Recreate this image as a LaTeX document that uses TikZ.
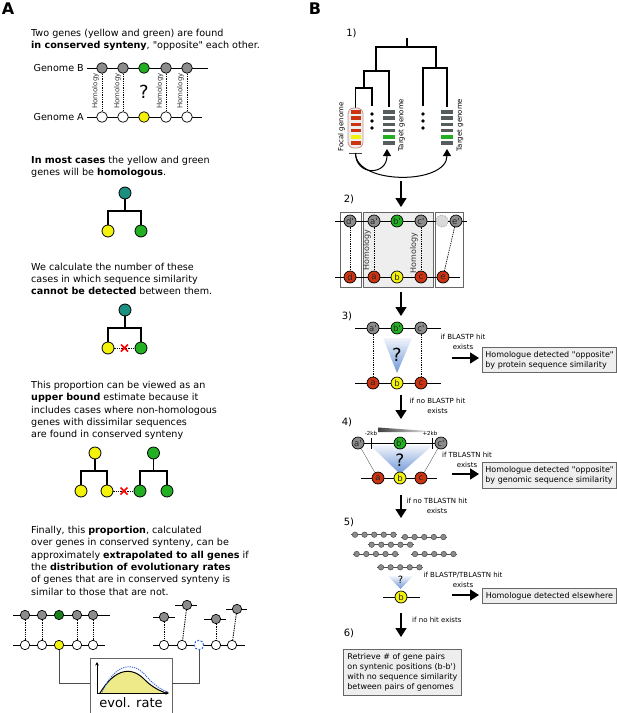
\documentclass[tikz,border=0pt]{standalone}
\usepackage{fontspec}
\setmainfont{DejaVu Sans}[Ligatures=TeXOff]
\usetikzlibrary{arrows.meta,shapes.geometric}
\definecolor{ggrey}{HTML}{8C8C8C}
\definecolor{ggreen}{HTML}{22B022}
\definecolor{dgreen}{HTML}{1A801A}
\definecolor{gyellow}{HTML}{F2F20A}
\definecolor{gteal}{HTML}{1B8F80}
\definecolor{gred}{HTML}{CC3311}
\definecolor{boxfill}{HTML}{EEEEEE}
\definecolor{boxline}{HTML}{666666}
\definecolor{bargrey}{HTML}{555D5D}
\definecolor{capline}{HTML}{C09090}
\definecolor{blueq}{HTML}{6E97D6}
\definecolor{paleblue}{HTML}{F2F5FB}
\definecolor{paleyel}{HTML}{EEEA8A}
\definecolor{dashblue}{HTML}{3366DD}
\newcommand{\fs}[2]{\fontsize{#1}{#2}\selectfont}
\begin{document}
\begin{tikzpicture}[x=1pt,y=-1pt,
 cA/.style={circle,draw=black,line width=0.7pt,inner sep=0pt,minimum size=10.6pt},
 cS/.style={circle,draw=black,line width=0.7pt,inner sep=0pt,minimum size=9.4pt},
 cT/.style={circle,draw=black,line width=0.8pt,inner sep=0pt,minimum size=12pt},
 cB/.style={circle,draw=black,line width=0.7pt,inner sep=0pt,minimum size=12pt,font=\fs{8.5}{8.5},text=black!85},
 bead/.style={circle,draw=black!70,fill=ggrey,line width=0.5pt,inner sep=0pt,minimum size=5.5pt},
 dots/.style={line width=0.9pt,dash pattern=on 1.3pt off 1pt},
 gline/.style={line width=1pt},
 tline/.style={line width=1.3pt},
 flow/.style={line width=1.6pt,-{Triangle[width=11pt,length=9pt]}},
 rbox/.style={draw=boxline,fill=boxfill,line width=0.8pt,inner sep=3pt,align=left,font=\fs{8}{10},anchor=north west},
 lab/.style={font=\fs{7}{9.5},align=center,inner sep=0pt},
 txt/.style={anchor=north west,inner sep=0pt,align=left,font=\fs{9.6}{12.4}},
 hom/.style={rotate=90,font=\fs{7}{7},text=black!80,inner sep=0pt},
 homB/.style={rotate=90,font=\fs{8}{8},text=black!80,inner sep=0pt},
 stepl/.style={font=\fs{10}{10},inner sep=0pt},
 qm/.style={font=\fs{18}{18},inner sep=0pt},
 conn/.style={line width=0.8pt,draw=black!70}
]
\useasboundingbox (0,0) rectangle (617,713);
% ================= Panel A =================
\node[font=\bfseries\fs{16}{16},inner sep=0pt] (LA) at (8,9) {A};
\node[txt] (tA1) at (31,28.7) {Two genes (yellow and green) are found\\\textbf{in conserved synteny}, "opposite" each other.};
% genome pair
\draw[gline] (87,68) -- (208,68);
\draw[gline] (87,117) -- (202,117);
\node[anchor=east,font=\fs{9.6}{12},inner sep=0pt] (gBl) at (84,68) {Genome B};
\node[anchor=east,font=\fs{9.6}{12},inner sep=0pt] (gAl) at (84,117) {Genome A};
\node[cA,fill=ggrey] (b1) at (102,68) {};
\node[cA,fill=ggrey] (b2) at (123,68) {};
\node[cA,fill=ggreen] (b3) at (144,68) {};
\node[cA,fill=ggrey] (b4) at (166,68) {};
\node[cA,fill=ggrey] (b5) at (187,68) {};
\node[cA,fill=white] (a1) at (102,117) {};
\node[cA,fill=white] (a2) at (123,117) {};
\node[cA,fill=gyellow] (a3) at (144,117) {};
\node[cA,fill=white] (a4) at (166,117) {};
\node[cA,fill=white] (a5) at (187,117) {};
\draw[dots] (b1) -- (a1);
\draw[dots] (b2) -- (a2);
\draw[dots] (b4) -- (a4);
\draw[dots] (b5) -- (a5);
\node[hom] (hA1) at (95.5,91) {Homology};
\node[hom] (hA2) at (117.5,91) {Homology};
\node[hom] (hA3) at (160,91) {Homology};
\node[hom] (hA4) at (180.5,91) {Homology};
\node[qm] (qA) at (144,92) {?};
\node[txt] (tA2) at (31,155.7) {\textbf{In most cases} the yellow and green\\genes will be \textbf{homologous}.};
% tree 1
\node[cT,fill=gteal] (t1r) at (125,193) {};
\node[cT,fill=gyellow] (t1a) at (108,231) {};
\node[cT,fill=ggreen] (t1b) at (141,231) {};
\coordinate (t1j) at (125,211);
\draw[tline] (t1r) -- (t1j);
\draw[tline] (t1a) |- (t1j) -| (t1b);
\node[txt] (tA3) at (31,262.7) {We calculate the number of these\\cases in which sequence similarity\\\textbf{cannot be detected} between them.};
% tree 2
\node[cT,fill=gteal] (t2r) at (125,310) {};
\node[cT,fill=gyellow] (t2a) at (108,348) {};
\node[cT,fill=ggreen] (t2b) at (141,348) {};
\coordinate (t2j) at (125,328);
\draw[tline] (t2r) -- (t2j);
\draw[tline] (t2a) |- (t2j) -| (t2b);
\draw[dots,line width=0.7pt] (t2a) -- (t2b);
\draw[red,line width=1.6pt] (121,344.5) -- (128,351.5) (121,351.5) -- (128,344.5);
\node[txt] (tA4) at (31,380.7) {This proportion can be viewed as an\\\textbf{upper bound} estimate because it\\includes cases where non-homologous\\genes with dissimilar sequences\\are found in conserved synteny};
% tree 3
\node[cT,fill=gyellow] (t3r) at (95,453) {};
\node[cT,fill=gyellow] (t3a) at (81,491) {};
\node[cT,fill=gyellow] (t3b) at (107,491) {};
\coordinate (t3j) at (95,471);
\draw[tline] (t3r) -- (t3j);
\draw[tline] (t3a) |- (t3j) -| (t3b);
\node[cT,fill=ggreen] (t4r) at (153.5,453) {};
\node[cT,fill=ggreen] (t4a) at (140,491) {};
\node[cT,fill=ggreen] (t4b) at (167,491) {};
\coordinate (t4j) at (153.5,471);
\draw[tline] (t4r) -- (t4j);
\draw[tline] (t4a) |- (t4j) -| (t4b);
\draw[dots,line width=0.7pt] (t3b) -- (t4a);
\draw[red,line width=1.6pt] (120.5,487.5) -- (127.5,494.5) (120.5,494.5) -- (127.5,487.5);
\node[txt] (tA5) at (31,525.7) {Finally, this \textbf{proportion}, calculated\\over genes in conserved synteny, can be\\approximately \textbf{extrapolated to all genes} if\\the \textbf{distribution of evolutionary rates}\\of genes that are in conserved synteny is\\similar to those that are not.};
% bottom left synteny
\draw[gline] (13,615) -- (110,615);
\draw[gline] (13,645) -- (105,645);
\node[cS,fill=ggrey] (l1t) at (25,615) {};
\node[cS,fill=ggrey] (l2t) at (42,615) {};
\node[cS,fill=dgreen] (l3t) at (59,615) {};
\node[cS,fill=ggrey] (l4t) at (77,615) {};
\node[cS,fill=ggrey] (l5t) at (93,615) {};
\node[cS,fill=white] (l1b) at (25,645) {};
\node[cS,fill=white] (l2b) at (42,645) {};
\node[cS,fill=gyellow] (l3b) at (59,645) {};
\node[cS,fill=white] (l4b) at (77,645) {};
\node[cS,fill=white] (l5b) at (93,645) {};
\draw[dots] (l1t) -- (l1b);
\draw[dots] (l2t) -- (l2b);
\draw[dots] (l4t) -- (l4b);
\draw[dots] (l5t) -- (l5b);
% bottom right non-synteny
\draw[gline] (153,645) -- (245,645);
\draw[gline] (153,617) -- (175,617);
\draw[gline] (175,605) -- (197,605);
\draw[gline] (204,619) -- (226,619);
\draw[gline] (226,609) -- (247,609);
\node[cS,fill=ggrey] (r1t) at (164,617) {};
\node[cS,fill=ggrey] (r2t) at (187,605) {};
\node[cS,fill=ggrey] (r4t) at (216,619) {};
\node[cS,fill=ggrey] (r5t) at (237,609) {};
\node[cS,fill=white] (r1b) at (164,645) {};
\node[cS,fill=white] (r2b) at (182,645) {};
\node[cS,fill=white,draw=dashblue,line width=1pt,dash pattern=on 2pt off 1.5pt] (r3b) at (199,645) {};
\node[cS,fill=white] (r4b) at (216,645) {};
\node[cS,fill=white] (r5b) at (232,645) {};
\draw[dots] (r1t) -- (r1b);
\draw[dots] (r2t) -- (r2b);
\draw[dots] (r4t) -- (r4b);
\draw[dots] (r5t) -- (r5b);
% evol rate box
\node[draw=boxline,fill=white,line width=0.9pt,minimum width=82pt,minimum height=57pt,anchor=north west,inner sep=0pt] (evbox) at (90,658) {};
\coordinate (evL) at (90,683);
\coordinate (evR) at (172,683);
\draw[conn] (l3b) |- (evL);
\draw[conn] (r3b) |- (evR);
\fill[paleyel] (100,693) .. controls (115,668) and (132,666) .. (145,680) .. controls (152,687) and (160,691) .. (166,693) -- cycle;
\draw[line width=1pt] (100,693) .. controls (115,668) and (132,666) .. (145,680) .. controls (152,687) and (160,691) .. (166,693);
\draw[dashblue,line width=0.9pt,dash pattern=on 1.2pt off 1pt] (102,692) .. controls (116,662) and (134,661) .. (147,677) .. controls (155,686) and (162,690) .. (168,692);
\draw[line width=0.8pt,{Stealth[length=3.5pt,width=3.5pt]}-{Stealth[length=3.5pt,width=3.5pt]}] (97,662) -- (97,693) -- (169,693);
\node[font=\fs{13}{13},inner sep=0pt] (evt) at (131,703) {evol. rate};
% ================= Panel B =================
\node[font=\bfseries\fs{16}{16},inner sep=0pt] (LB) at (315,9) {B};
\node[stepl] (s1) at (351.5,33) {1)};
% tree
\draw[tline] (407,38) -- (407,47);
\draw[tline] (376,71) -- (376,47) -- (436,47) -- (436,68);
\draw[tline] (355.5,108) -- (355.5,88) -- (372,88) -- (372,106);
\draw[tline] (364,88) -- (364,71) -- (389,71) -- (389,107);
\draw[tline] (423,106) -- (423,68) -- (447,68) -- (447,107);
\node[draw=capline,fill=boxfill,line width=0.8pt,rounded corners=6pt,minimum width=15pt,minimum height=40pt,inner sep=0pt] (focal) at (355.5,128) {};
\foreach \yy/\cc in {112/gred,118.2/gred,124.4/gred,130.6/gred,136.8/gyellow,143/gred}{
  \fill[\cc] (350.5,\yy-1.8) rectangle (360.5,\yy+1.8);
}
\foreach \yy/\cc in {112/bargrey,118.2/bargrey,124.4/bargrey,130.6/bargrey,136.8/ggreen,143/bargrey}{
  \fill[\cc] (383,\yy-1.8) rectangle (395,\yy+1.8);
  \fill[\cc] (441,\yy-1.8) rectangle (453,\yy+1.8);
}
\foreach \yy in {114,121,128}{
  \fill (372,\yy) circle (1.9pt);
  \fill (423,\yy) circle (1.9pt);
}
\node[rotate=90,font=\fs{7}{7},inner sep=0pt] (fgl) at (341.5,127) {Focal genome};
\node[rotate=90,font=\fs{7}{7},inner sep=0pt] (tgl1) at (401.5,125) {Target genome};
\node[rotate=90,font=\fs{7}{7},inner sep=0pt] (tgl2) at (460,125) {Target genome};
\draw[line width=1pt,black!75] (349,153) -- (362,153);
\coordinate (fs) at (355.5,153);
\coordinate (tgA) at (387,149);
\coordinate (tgB) at (447,149);
\draw[line width=1pt,-{Triangle[width=8pt,length=7pt]}] (fs) .. controls (355.5,176) and (387,176) .. (tgA);
\draw[line width=1pt,-{Triangle[width=8pt,length=7pt]}] (fs) .. controls (355.5,185) and (447,185) .. (tgB);
\coordinate (f1a) at (401,181);
\coordinate (f1b) at (401,207);
\draw[flow] (f1a) -- (f1b);
% step 2
\node[stepl] (s2) at (349,199) {2)};
\draw[draw=boxline,fill=white,line width=0.8pt] (340,212) rectangle (361,287);
\draw[draw=boxline,fill=boxfill,line width=0.8pt] (363,212) rectangle (433,287);
\draw[draw=boxline,fill=white,line width=0.8pt] (435,212) rectangle (463,287);
\draw[gline] (335,221) -- (467,221);
\draw[gline] (335,277) -- (460,277);
\node[cB,fill=ggrey] (p2d) at (350,221) {d'};
\node[cB,fill=ggrey] (p2a) at (374,221) {a'};
\node[cB,fill=ggreen] (p2b) at (397,221) {b'};
\node[cB,fill=ggrey] (p2c) at (421,221) {c'};
\node[cB,fill=black!15,draw=black!55,dotted] (p2x) at (442,221) {};
\node[cB,fill=ggrey] (p2e) at (456,221) {e'};
\node[cB,fill=gred] (q2d) at (350,277) {d};
\node[cB,fill=gred] (q2a) at (374,277) {a};
\node[cB,fill=gyellow] (q2b) at (397,277) {b};
\node[cB,fill=gred] (q2c) at (421,277) {c};
\node[cB,fill=gred] (q2e) at (443,277) {e};
\draw[dots,line width=0.7pt] (p2d) -- (q2d);
\draw[dots,line width=0.7pt] (p2a) -- (q2a);
\draw[dots,line width=0.7pt] (p2c) -- (q2c);
\draw[dots,line width=0.7pt] (p2e) -- (q2e);
\node[homB] (hB1) at (367,250) {Homology};
\node[homB] (hB2) at (414,253) {Homology};
\coordinate (f2a) at (401,292);
\coordinate (f2b) at (401,316);
\draw[flow] (f2a) -- (f2b);
% step 3
\node[stepl] (s3) at (347,316) {3)};
\draw[gline] (355,328) -- (441,328);
\draw[gline] (355,383) -- (441,383);
\shade[top color=paleblue,bottom color=blueq] (383,338) -- (412,338) -- (397,373) -- cycle;
\node[cB,fill=ggrey] (p3a) at (373,328) {a'};
\node[cB,fill=ggreen] (p3b) at (397,328) {b'};
\node[cB,fill=ggrey] (p3c) at (421,328) {c'};
\node[cB,fill=gred] (q3a) at (373,383) {a};
\node[cB,fill=gyellow] (q3b) at (397,383) {b};
\node[cB,fill=gred] (q3c) at (421,383) {c};
\draw[dots,line width=0.7pt] (p3a) -- (q3a);
\draw[dots,line width=0.7pt] (p3c) -- (q3c);
\node[qm] (q3q) at (397,355) {?};
\node[lab] (l3a) at (463,342) {if BLASTP hit\\exists};
\coordinate (r3a) at (452,358);
\coordinate (r3b) at (479,358);
\draw[flow] (r3a) -- (r3b);
\node[rbox,minimum width=134pt,minimum height=25pt] (box3) at (482,347) {Homologue detected "opposite"\\by protein sequence similarity};
\coordinate (f3a) at (401,395);
\coordinate (f3b) at (401,419);
\draw[flow] (f3a) -- (f3b);
\node[lab] (l3b) at (437.5,406) {if no BLASTP hit\\exists};
% step 4
\node[stepl] (s4) at (347,422) {4)};
\shade[left color=black!75,right color=black!10] (378,427.5) -- (429,431) -- (429,432) -- (378,432) -- cycle;
\node[font=\fs{5.5}{5.5},inner sep=0pt] (km) at (371,433.5) {-2kb};
\node[font=\fs{5.5}{5.5},inner sep=0pt] (kp) at (430,433.5) {+2kb};
\shade[top color=paleblue,bottom color=blueq] (370,445) -- (433,445) -- (400,474) -- cycle;
\draw[gline] (358,443) -- (441,443);
\draw[line width=1pt] (371,437.5) -- (371,448.5);
\draw[line width=1pt] (432,437.5) -- (432,448.5);
\draw[gline] (361,478) -- (437,478);
\node[cB,fill=ggrey] (p4a) at (358,443) {a'};
\node[cB,fill=ggreen] (p4b) at (400,443) {b'};
\node[cB,fill=ggrey] (p4c) at (441,443) {c'};
\node[cB,fill=gred] (q4a) at (378,478) {a};
\node[cB,fill=gyellow] (q4b) at (400,478) {b};
\node[cB,fill=gred] (q4c) at (421,478) {c};
\draw[line width=0.4pt,black!60] (p4a) -- (q4a);
\draw[line width=0.4pt,black!60] (p4c) -- (q4c);
\node[qm,font=\fs{17}{17}] (q4q) at (400,460) {?};
\node[lab] (l4a) at (467,460) {if TBLASTN hit\\exists};
\coordinate (r4a) at (452,474);
\coordinate (r4b) at (479,474);
\draw[flow] (r4a) -- (r4b);
\node[rbox,minimum width=134pt,minimum height=26pt] (box4) at (482,462) {Homologue detected "opposite"\\by genomic sequence similarity};
\coordinate (f4a) at (401,495);
\coordinate (f4b) at (401,518);
\draw[flow] (f4a) -- (f4b);
\node[lab] (l4b) at (437,506) {if no TBLASTN hit\\exists};
% step 5
\node[stepl] (s5) at (349,522) {5)};
\foreach \xs/\yy/\g in {355/534.7/1,405/537/2,371.7/544.7/3,356.7/554/4,415/554/5,381/567.3/6}{
  \draw[line width=0.6pt,black!70] ({\xs-4},\yy) -- ({\xs+42.4},\yy);
  \foreach \i in {0,...,4}{\node[bead] (bd\g\i) at ({\xs+9.6*\i},\yy) {};}
}
\shade[top color=paleblue,bottom color=blueq] (388,576) -- (413,576) -- (400.5,589) -- cycle;
\node[font=\fs{10}{10},inner sep=0pt] (q5q) at (400.5,580) {?};
\draw[gline] (383,597) -- (420,597);
\node[cB,fill=gyellow] (q5b) at (401,597) {b};
\node[lab] (l5a) at (463,580) {if BLASTP/TBLASTN hit\\exists};
\coordinate (r5a) at (452,595);
\coordinate (r5b) at (479,595);
\draw[flow] (r5a) -- (r5b);
\node[rbox,minimum width=134pt,minimum height=15pt] (box5) at (482,588) {Homologue detected elsewhere};
\coordinate (f5a) at (401,613);
\coordinate (f5b) at (401,637);
\draw[flow] (f5a) -- (f5b);
\node[lab,anchor=west] (l5b) at (412,620) {if no hit exists};
% step 6
\node[stepl] (s6) at (349,633) {6)};
\node[rbox,minimum width=118pt,minimum height=46pt] (box6) at (343,649) {Retrieve \# of gene pairs\\on syntenic positions (b-b')\\with no sequence similarity\\between pairs of genomes};
\end{tikzpicture}
\end{document}
